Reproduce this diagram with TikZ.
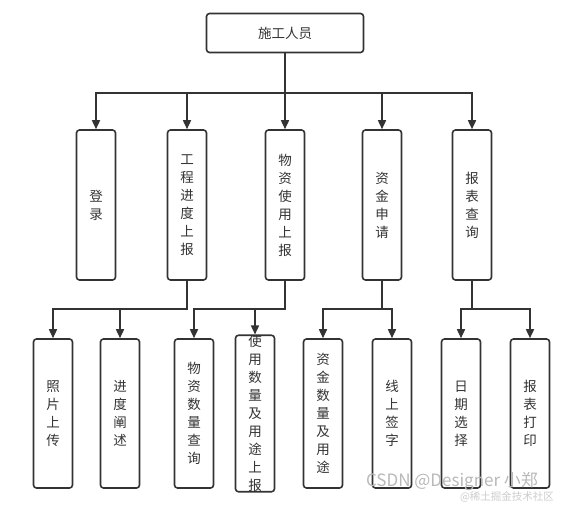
\documentclass[tikz,border=0pt]{standalone}
\usepackage{fontspec}
\newfontfamily\cjkfont{Noto Sans CJK SC}
\usetikzlibrary{arrows.meta}
\definecolor{linegray}{HTML}{333333}

\begin{document}
\begin{tikzpicture}[x=1pt, y=-1pt,
    box/.style={draw=linegray, line width=1.6pt, rounded corners=3pt, minimum width=39pt,
        minimum height=150pt, inner sep=0pt, align=center, text=linegray,
        font=\cjkfont\fontsize{13.5}{18}\selectfont},
    arr/.style={draw=linegray, line width=1.6pt, -{Triangle[length=9pt,width=8pt]}}]
    \useasboundingbox (0,0) rectangle (564,505);

    % Draw the top box
    \node[box, minimum width=157pt, minimum height=39pt] (staff) at (285,33) {施工人员};

    % Draw the second row
    \node[box] (login)    at (96,205)  {登\\录};
    \node[box] (progress) at (187,205) {工\\程\\进\\度\\上\\报};
    \node[box] (material) at (285,205) {物\\资\\使\\用\\上\\报};
    \node[box] (funds)    at (382,205) {资\\金\\申\\请};
    \node[box] (report)   at (472,205) {报\\表\\查\\询};

    % Draw the third row
    \node[box, minimum height=149pt] (photo)    at (53,413.5)  {照\\片\\上\\传};
    \node[box, minimum height=149pt] (describe) at (120,413.5) {进\\度\\阐\\述};
    \node[box, minimum height=149pt] (matquery) at (194,413.5) {物\\资\\数\\量\\查\\询};
    \node[box, minimum height=149pt] (usage)    at (255,413.5) {使\\用\\数\\量\\及\\用\\途\\上\\报};
    \node[box, minimum height=149pt] (fundamt)  at (323,413.5) {资\\金\\数\\量\\及\\用\\途};
    \node[box, minimum height=149pt] (sign)     at (392,413.5) {线\\上\\签\\字};
    \node[box, minimum height=149pt] (date)     at (461,413.5) {日\\期\\选\\择};
    \node[box, minimum height=149pt] (print)    at (530,413.5) {报\\表\\打\\印};

    % Draw the forks
    \coordinate (fstaff)    at (285,93);
    \coordinate (fprogress) at (187,309);
    \coordinate (fmaterial) at (285,309);
    \coordinate (ffunds)    at (382,309);
    \coordinate (freport)   at (472,309);

    % Draw the arrows
    \foreach \n in {login,progress,material,funds,report}
        \draw[arr] (staff.south) |- (fstaff) -| (\n.north);
    \foreach \n in {photo,describe}
        \draw[arr] (progress.south) |- (fprogress) -| (\n.north);
    \foreach \n in {matquery,usage}
        \draw[arr] (material.south) |- (fmaterial) -| (\n.north);
    \foreach \n in {fundamt,sign}
        \draw[arr] (funds.south) |- (ffunds) -| (\n.north);
    \foreach \n in {date,print}
        \draw[arr] (report.south) |- (freport) -| (\n.north);

    % Watermark
    \node[text=gray!55, font=\cjkfont\fontsize{17}{17}\selectfont, inner sep=0pt] (wm1) at (452,482) {CSDN @Designer 小郑};
    \node[text=gray!40, font=\cjkfont\fontsize{10.5}{10.5}\selectfont, inner sep=0pt] (wm2) at (507,497) {@稀土掘金技术社区};

\end{tikzpicture}
\end{document}
